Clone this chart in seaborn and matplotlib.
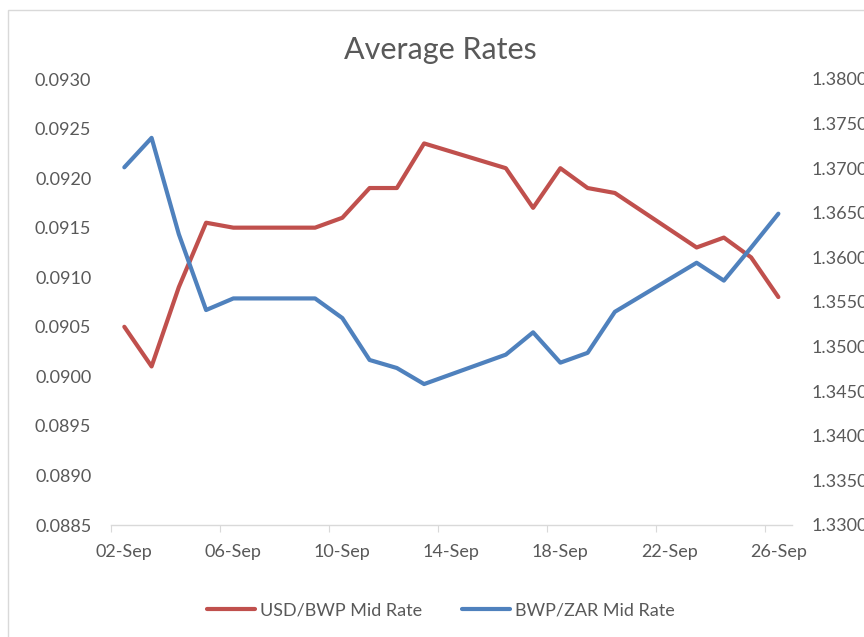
"""
Average Rates - USD/BWP and BWP/ZAR mid rates, September
"""

import pandas as pd
import matplotlib.pyplot as plt
import matplotlib.dates as mdates
from matplotlib.patches import Rectangle
from matplotlib.lines import Line2D
import seaborn as sns

# ---------- DATA ----------
days = [2, 3, 4, 5, 6, 9, 10, 11, 12, 13, 16, 17, 18, 19, 20, 23, 24, 25, 26]
usd_bwp = [0.0905, 0.0901, 0.0909, 0.09155, 0.0915, 0.0915, 0.0916, 0.0919, 0.0919, 0.09235,
           0.0921, 0.0917, 0.0921, 0.0919, 0.09185, 0.0913, 0.0914, 0.0912, 0.0908]
bwp_zar = [1.3701, 1.3734, 1.3626, 1.3541, 1.3554, 1.3554, 1.3532, 1.3485, 1.3476, 1.3458,
           1.3491, 1.3516, 1.3482, 1.3493, 1.3539, 1.3594, 1.3574, 1.3611, 1.3649]
series_names = ["USD/BWP Mid Rate", "BWP/ZAR Mid Rate"]
left_ticks = [0.0885 + 0.0005 * i for i in range(10)]
right_ticks = [1.330 + 0.005 * i for i in range(11)]

dates = pd.to_datetime([f"2019-09-{d:02d}" for d in days])
df = pd.DataFrame({"date": dates + pd.Timedelta(hours=12),
                   "usd": usd_bwp, "zar": bwp_zar})

# ---------- STYLE ----------
sns.set_theme(style="white")
plt.rcParams["font.family"] = ["Lato", "DejaVu Sans"]
GREY = "#595959"
RED = "#C0504D"
BLUE = "#4F81BD"
AXIS = "#D9D9D9"

fig = plt.figure(figsize=(8.64, 6.37), dpi=100)
ax = fig.add_axes([110.7 / 864, 1 - 525 / 637, (792 - 110.7) / 864, (525 - 79) / 637])
ax2 = ax.twinx()

line_kw = dict(linewidth=3.0, solid_capstyle="round", solid_joinstyle="round")
sns.lineplot(data=df, x="date", y="usd", ax=ax, color=RED, **line_kw)
sns.lineplot(data=df, x="date", y="zar", ax=ax2, color=BLUE, **line_kw)

# ---------- AXES ----------
ax.set_xlim(pd.Timestamp("2019-09-02"), pd.Timestamp("2019-09-27"))
major = pd.date_range("2019-09-02", "2019-09-26", freq="4D")
ax.set_xticks(major)
ax.set_xticks(major + pd.Timedelta(hours=12), minor=True)
ax.xaxis.set_major_formatter(plt.NullFormatter())
ax.xaxis.set_minor_formatter(mdates.DateFormatter("%d-%b"))
ax.tick_params(axis="x", which="major", length=5, width=0.8, color=AXIS, bottom=True)
ax.tick_params(axis="x", which="minor", length=0, pad=14, labelsize=13, labelcolor=GREY)

ax.set_ylim(0.0885, 0.0930)
ax.set_yticks(left_ticks)
ax.set_yticklabels([f"{v:.4f}" for v in left_ticks])
ax.tick_params(axis="y", length=0, pad=14, labelsize=13, labelcolor=GREY)

ax2.set_ylim(1.330, 1.380)
ax2.set_yticks(right_ticks)
ax2.set_yticklabels([f"{v:.4f}" for v in right_ticks])
ax2.tick_params(axis="y", length=0, pad=14, labelsize=13, labelcolor=GREY)

for a in (ax, ax2):
    a.set_xlabel("")
    a.set_ylabel("")
    a.grid(False)
    for side in ("top", "left", "right"):
        a.spines[side].set_visible(False)
    a.spines["bottom"].set_color(AXIS)
    a.spines["bottom"].set_linewidth(1.0)
ax2.spines["bottom"].set_visible(False)

# ---------- TITLE / LEGEND / BORDER ----------
fig.text(440 / 864, 1 - 59 / 637, "Average Rates", ha="center", va="baseline",
         fontsize=22, color=GREY)

handles = [Line2D([], [], color=RED, linewidth=3.0, solid_capstyle="round"),
           Line2D([], [], color=BLUE, linewidth=3.0, solid_capstyle="round")]
fig.legend(handles, series_names, loc="center", bbox_to_anchor=(441 / 864, 1 - 610.7 / 637),
           ncol=2, frameon=False, fontsize=13, labelcolor=GREY,
           handlelength=2.66, handletextpad=0.3, columnspacing=2.2)

fig.patches.append(Rectangle((7.5 / 864, -0.1), 2.0, 1.1 - 9.5 / 637, transform=fig.transFigure,
                             fill=False, edgecolor=AXIS, linewidth=1.0))

fig.savefig("out.png", dpi=100)
plt.close(fig)
